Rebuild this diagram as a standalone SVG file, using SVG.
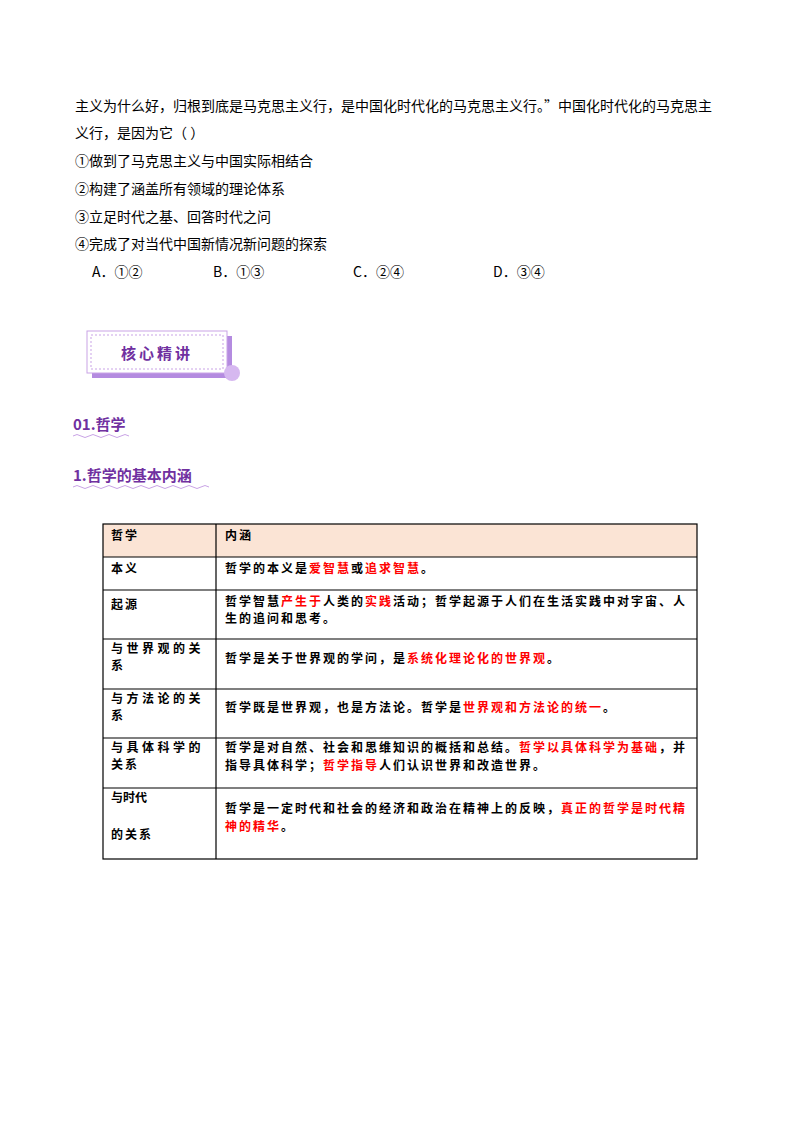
<svg xmlns="http://www.w3.org/2000/svg" width="800" height="1132" viewBox="0 0 800 1132">
<style>
text{font-family:"Noto Sans CJK SC","Liberation Serif",serif;font-size:14px;fill:#000}
.t{font-size:12px;font-weight:bold;letter-spacing:2px;font-family:"Noto Sans CJK SC",serif}
.r{fill:#ff0000}
.h{fill:#7030a0;font-weight:bold;font-size:15px;font-family:"Noto Sans CJK SC","Liberation Sans",sans-serif}
.g{stroke:#000;stroke-width:1.2;fill:none}
.w{stroke:#c9a3e6;stroke-width:1;fill:none}
</style>
<rect width="800" height="1132" fill="#fff"/>
<text x="75" y="111">主义为什么好，归根到底是马克思主义行，是中国化时代化的马克思主义行。”中国化时代化的马克思主</text>
<text x="75" y="138">义行，是因为它（    ）</text>
<text x="75" y="166">①做到了马克思主义与中国实际相结合</text>
<text x="75" y="194">②构建了涵盖所有领域的理论体系</text>
<text x="75" y="222">③立足时代之基、回答时代之问</text>
<text x="75" y="249">④完成了对当代中国新情况新问题的探索</text>
<text x="92" y="277">A．①②</text>
<text x="213" y="277">B．①③</text>
<text x="353" y="277">C．②④</text>
<text x="493" y="277">D．③④</text>
<g id="badge">
<rect x="92" y="336" width="140" height="42" fill="#b48be0"/>
<rect x="87" y="331" width="140" height="42" fill="#fff" stroke="#c9a3e6"/>
<rect x="91" y="335" width="132" height="34" fill="none" stroke="#c9a3e6" stroke-dasharray="2,2"/>
<circle cx="232" cy="373" r="8" fill="#d6b8f0"/>
<text x="157" y="359" text-anchor="middle" style="font-size:15px;font-weight:bold;fill:#7030a0;letter-spacing:3px">核心精讲</text>
</g>
<text class="h" x="73" y="430">01.哲学</text>
<path class="w" d="M73 436q4 -3 8 0t8 0t8 0t8 0t8 0t8 0t8 0"/>
<text class="h" x="73" y="481">1.哲学的基本内涵</text>
<path class="w" d="M73 487q4 -3 8 0t8 0t8 0t8 0t8 0t8 0t8 0t8 0t8 0t8 0t8 0t8 0t8 0t8 0t8 0t8 0t8 0"/>
<g id="table">
<rect x="103" y="524" width="594" height="33" fill="#fbe4d5"/>
<rect class="g" x="103" y="524" width="594" height="335"/>
<path class="g" d="M216 524V859M103 557H697M103 590H697M103 639H697M103 689H697M103 738H697M103 788H697"/>
<text class="t" x="111" y="540">哲学</text>
<text class="t" x="225" y="540">内涵</text>
<text class="t" x="111" y="573">本义</text>
<text class="t" x="225" y="573">哲学的本义是<tspan class="r">爱智慧</tspan>或<tspan class="r">追求智慧</tspan>。</text>
<text class="t" x="111" y="609">起源</text>
<text class="t" x="225" y="606">哲学智慧<tspan class="r">产生于</tspan>人类的<tspan class="r">实践</tspan>活动；哲学起源于人们在生活实践中对宇宙、人</text>
<text class="t" x="225" y="623">生的追问和思考。</text>
<text class="t" x="111" y="653" style="letter-spacing:3.5px">与世界观的关</text>
<text class="t" x="111" y="670">系</text>
<text class="t" x="225" y="663">哲学是关于世界观的学问，是<tspan class="r">系统化理论化的世界观</tspan>。</text>
<text class="t" x="111" y="703" style="letter-spacing:3.5px">与方法论的关</text>
<text class="t" x="111" y="720">系</text>
<text class="t" x="225" y="712">哲学既是世界观，也是方法论。哲学是<tspan class="r">世界观和方法论的统一</tspan>。</text>
<text class="t" x="111" y="752" style="letter-spacing:3.5px">与具体科学的</text>
<text class="t" x="111" y="769">关系</text>
<text class="t" x="225" y="752">哲学是对自然、社会和思维知识的概括和总结。<tspan class="r">哲学以具体科学为基础</tspan>，并</text>
<text class="t" x="225" y="770">指导具体科学；<tspan class="r">哲学指导</tspan>人们认识世界和改造世界。</text>
<text class="t" x="111" y="802" style="letter-spacing:0">与时代</text>
<text class="t" x="111" y="839">的关系</text>
<text class="t" x="225" y="813">哲学是一定时代和社会的经济和政治在精神上的反映，<tspan class="r">真正的哲学是时代精</tspan></text>
<text class="t" x="225" y="831"><tspan class="r">神的精华</tspan>。</text>
</g>
</svg>
